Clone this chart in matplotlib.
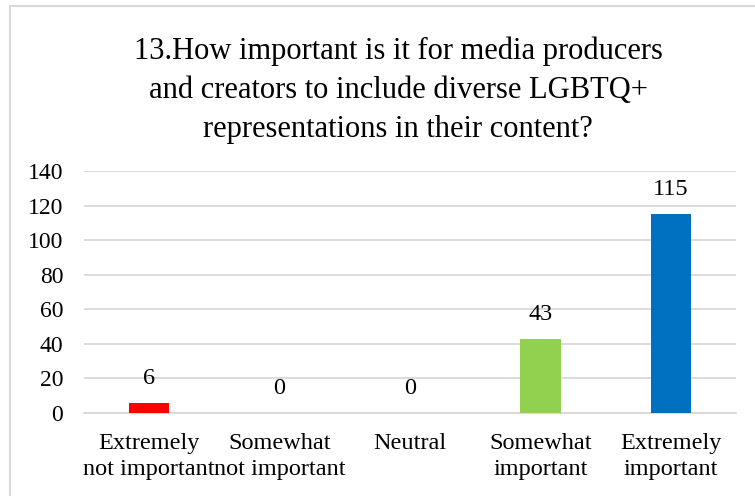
import numpy as np
import matplotlib.pyplot as plt
from matplotlib.patches import Rectangle

# Survey responses, question 13
categories = ['Extremely\nnot important', 'Somewhat\nnot important', 'Neutral',
              'Somewhat\nimportant', 'Extremely\nimportant']
counts = [6, 0, 0, 43, 115]
colors = ['#FF0000', '#FF0000', '#A5A5A5', '#92D050', '#0070C0']
yticks = [0, 20, 40, 60, 80, 100, 120, 140]

plt.rcParams['font.family'] = ['Liberation Serif', 'DejaVu Serif']

W, H = 755, 496
fig = plt.figure(figsize=(W / 100, H / 100), dpi=100)
ax = fig.add_axes([84 / W, 1 - 413 / H, (736 - 84) / W, (413 - 171) / H])

x = np.arange(len(categories))
ax.bar(x, counts, width=0.31, color=colors, zorder=3)
for xi, v in zip(x, counts):
    ax.annotate(str(v), (xi, v), xytext=(0, 10), textcoords='offset points',
                ha='center', va='bottom', fontsize=17.5, color='#000000')

ax.set_xlim(-0.5, len(categories) - 0.5)
ax.set_ylim(0, 140)
ax.set_yticks(yticks)
ax.yaxis.grid(True, color='#D9D9D9', linewidth=1.3, zorder=0)
ax.set_xticks(x)
ax.set_xticklabels(categories, fontsize=17.5, linespacing=1.33)
ax.tick_params(axis='y', labelsize=17, length=0, pad=15)
ax.tick_params(axis='x', length=0, pad=14.5)
for s in ['top', 'right', 'left']:
    ax.spines[s].set_visible(False)
ax.spines['bottom'].set_color('#D9D9D9')
ax.spines['bottom'].set_linewidth(1.3)

fig.text(398 / W, 1 - 90 / H,
         '13.How important is it for media producers\nand creators to include diverse LGBTQ+\nrepresentations in their content?',
         ha='center', va='center', fontsize=22, linespacing=1.45)

# chart area border
fig.patches.append(Rectangle((10 / W, -0.05), 1.1, 1 - 6 / H + 0.05,
                             transform=fig.transFigure, fill=False,
                             edgecolor='#D9D9D9', linewidth=1.5))

fig.savefig('out.png', dpi=100)
